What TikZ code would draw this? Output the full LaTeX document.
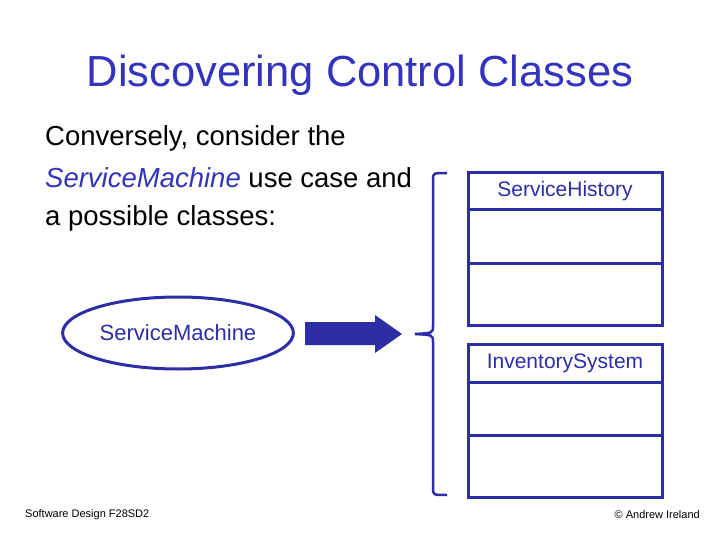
\documentclass[tikz,border=0pt]{standalone}
\usepackage{fontspec}
\setmainfont{Liberation Sans}
\usetikzlibrary{positioning,shapes.geometric}
\definecolor{slideblue}{RGB}{51,51,190}
\definecolor{boxblue}{RGB}{45,45,165}
\begin{document}
\begin{tikzpicture}[x=1pt,y=-1pt,
        cls/.style={draw=boxblue,line width=3pt,minimum width=194pt,outer sep=0pt,inner sep=0pt},
        txt/.style={anchor=west,inner sep=0pt,font=\fontsize{27.5}{32}\selectfont}]
   \useasboundingbox (0,0) rectangle (720,540);
   \node (title) at (360,75) [text=slideblue,font=\fontsize{43.5}{48}\selectfont] {Discovering Control Classes};
   \node (l1) at (45,138) [txt] {Conversely, consider the};
   \node (l2) at (45,178) [txt] {\textcolor{slideblue}{\itshape ServiceMachine} use case and};
   \node (l3) at (45,218) [txt] {a possible classes:};
   % use case
   \node (uc) at (178,333) [draw=boxblue,line width=3pt,ellipse,minimum width=204pt,minimum height=72pt,
        font=\fontsize{22}{26}\selectfont,text=boxblue] {ServiceMachine};
   % big arrow
   \coordinate (tip) at (402,334);
   \fill[boxblue] (305,322) -- (375,322) -- (375,315) -- (tip) -- (375,353) -- (375,345) -- (305,345) -- cycle;
   % brace
   \draw[boxblue,line width=2.5pt] (447,173) .. controls (433,173) .. (433,180) -- (433,326)
        .. controls (433,333) .. (415,334);
   \draw[boxblue,line width=2.5pt] (415,334) .. controls (433,335) .. (433,342) -- (433,488)
        .. controls (433,495) .. (447,495);
   % class one
   \node (h1) [cls,minimum height=37pt,anchor=north west,font=\fontsize{21}{24}\selectfont,text=boxblue] at (468,173) {ServiceHistory};
   \node (a1) [cls,minimum height=53pt,below=0pt of h1] {};
   \node (o1) [cls,minimum height=62pt,below=0pt of a1] {};
   % class two
   \node (h2) [cls,minimum height=38pt,anchor=north west,font=\fontsize{21}{24}\selectfont,text=boxblue] at (468,344) {InventorySystem};
   \node (a2) [cls,minimum height=53pt,below=0pt of h2] {};
   \node (o2) [cls,minimum height=62pt,below=0pt of a2] {};
   % footer
   \node (f1) at (25,515) [anchor=west,inner sep=0pt,font=\fontsize{11}{13}\selectfont] {Software Design F28SD2};
   \node (f2) at (700,515) [anchor=east,inner sep=0pt,font=\fontsize{11}{13}\selectfont] {© Andrew Ireland};
\end{tikzpicture}
\end{document}
